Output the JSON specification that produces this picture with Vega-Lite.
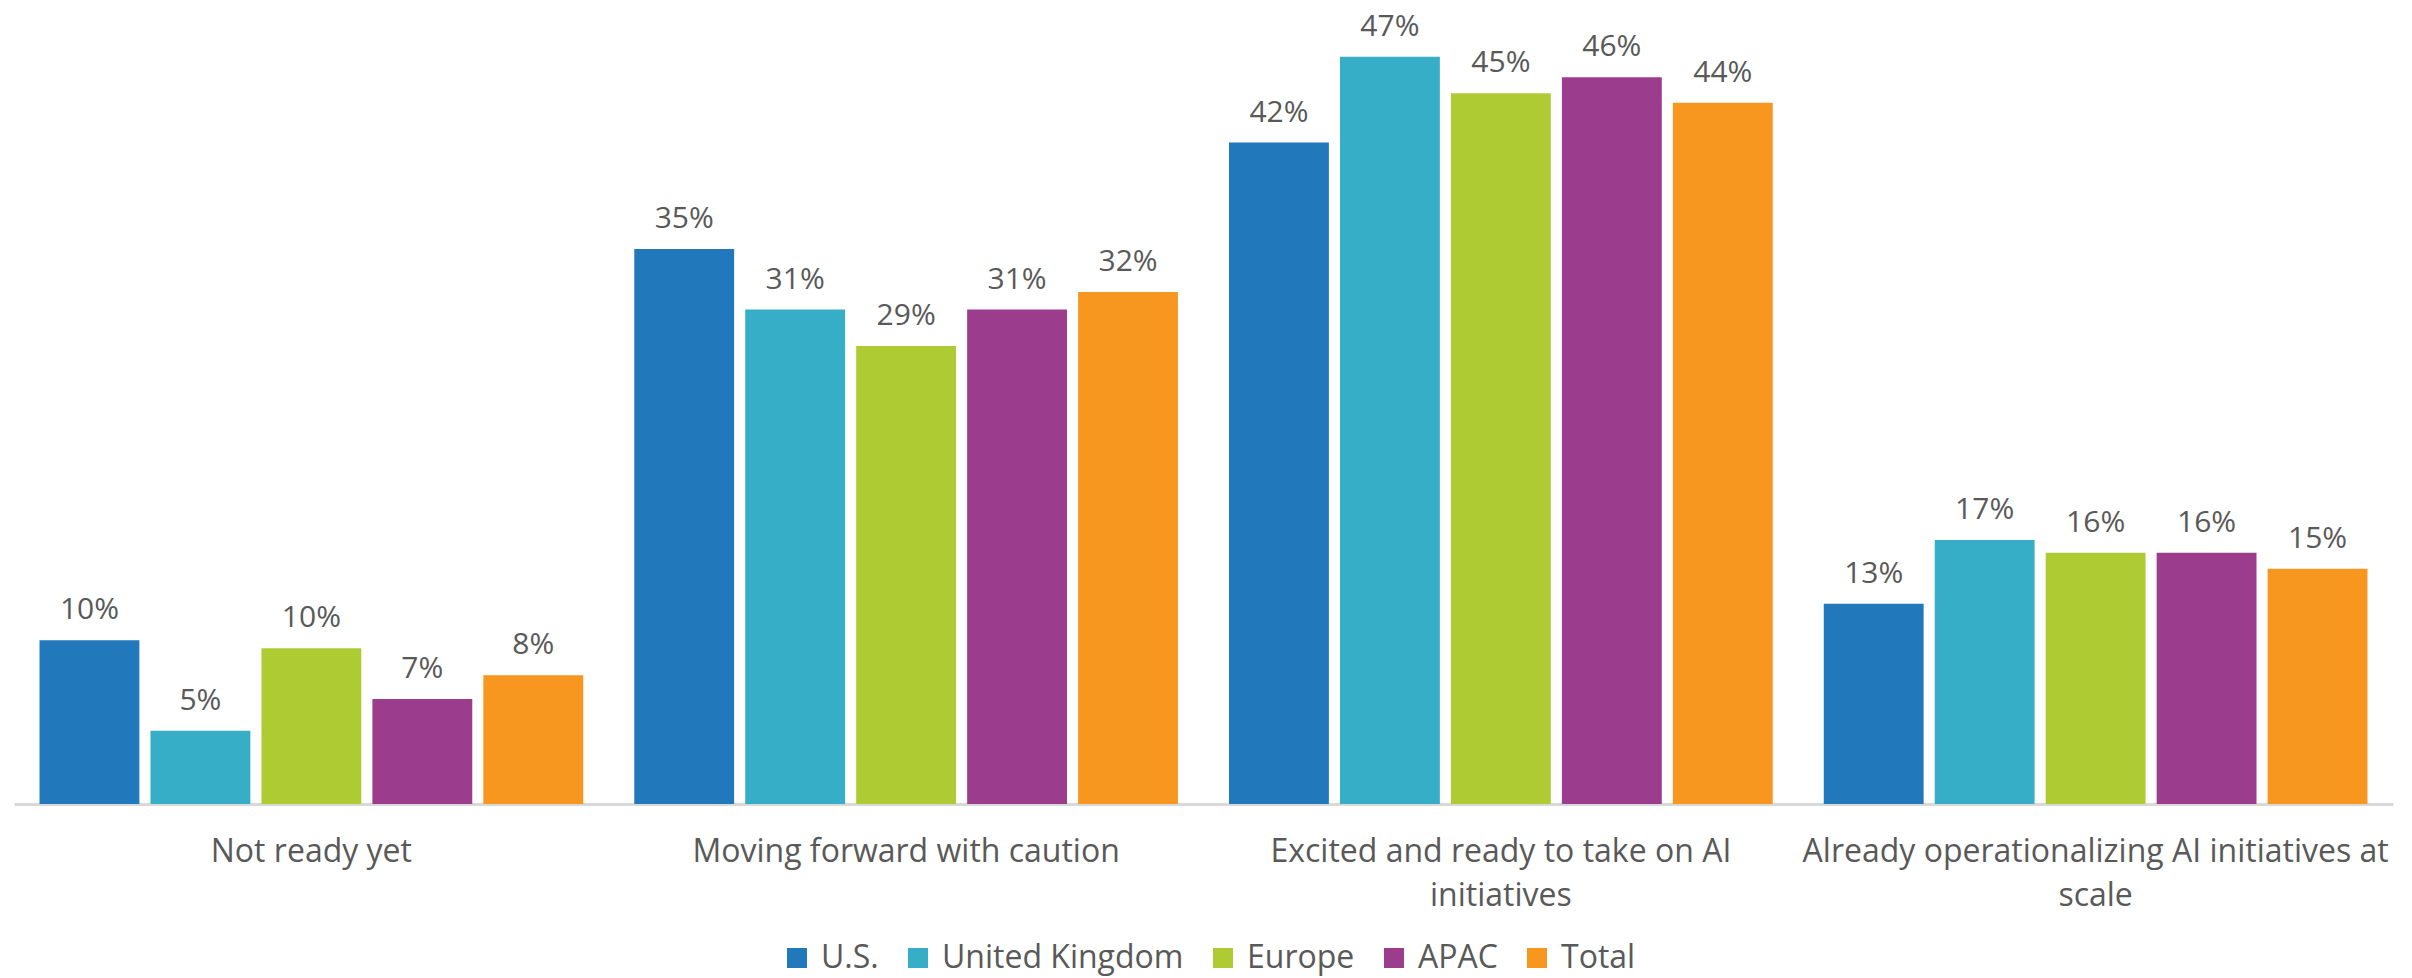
{
  "$schema": "https://vega.github.io/schema/vega-lite/v6.json",
  "width": 2379,
  "height": 795,
  "padding": {"left": 14, "top": 9, "right": 19, "bottom": 174},
  "autosize": {"type": "none"},
  "config": {"view": {"stroke": null}, "font": "Open Sans"},
  "data": {
    "values": [
      {"category": "Not ready yet", "region": "U.S.", "value": 0.103},
      {"category": "Not ready yet", "region": "United Kingdom", "value": 0.046},
      {"category": "Not ready yet", "region": "Europe", "value": 0.098},
      {"category": "Not ready yet", "region": "APAC", "value": 0.066},
      {"category": "Not ready yet", "region": "Total", "value": 0.081},
      {"category": "Moving forward with caution", "region": "U.S.", "value": 0.349},
      {"category": "Moving forward with caution", "region": "United Kingdom", "value": 0.311},
      {"category": "Moving forward with caution", "region": "Europe", "value": 0.288},
      {"category": "Moving forward with caution", "region": "APAC", "value": 0.311},
      {"category": "Moving forward with caution", "region": "Total", "value": 0.322},
      {"category": "Excited and ready to take on AI initiatives", "region": "U.S.", "value": 0.416},
      {"category": "Excited and ready to take on AI initiatives", "region": "United Kingdom", "value": 0.47},
      {"category": "Excited and ready to take on AI initiatives", "region": "Europe", "value": 0.447},
      {"category": "Excited and ready to take on AI initiatives", "region": "APAC", "value": 0.457},
      {"category": "Excited and ready to take on AI initiatives", "region": "Total", "value": 0.441},
      {"category": "Already operationalizing AI initiatives at scale", "region": "U.S.", "value": 0.126},
      {"category": "Already operationalizing AI initiatives at scale", "region": "United Kingdom", "value": 0.166},
      {"category": "Already operationalizing AI initiatives at scale", "region": "Europe", "value": 0.158},
      {"category": "Already operationalizing AI initiatives at scale", "region": "APAC", "value": 0.158},
      {"category": "Already operationalizing AI initiatives at scale", "region": "Total", "value": 0.148}
    ]
  },
  "encoding": {
    "x": {
      "field": "category",
      "type": "nominal",
      "sort": ["Not ready yet", "Moving forward with caution", "Excited and ready to take on AI initiatives", "Already operationalizing AI initiatives at scale"],
      "scale": {"paddingInner": 0, "paddingOuter": 0},
      "axis": {
        "title": null,
        "labelAngle": 0,
        "ticks": false,
        "domain": true,
        "domainColor": "#D9D9D9",
        "domainWidth": 3,
        "labelFont": "Open Sans",
        "labelFontSize": 32,
        "labelColor": "#595959",
        "labelPadding": 32,
        "labelLineHeight": 44,
        "labelLimit": 0,
        "labelExpr": "datum.value == 'Excited and ready to take on AI initiatives' ? ['Excited and ready to take on AI', 'initiatives'] : datum.value == 'Already operationalizing AI initiatives at scale' ? ['Already operationalizing AI initiatives at', 'scale'] : datum.value"
      }
    },
    "xOffset": {
      "field": "region",
      "type": "nominal",
      "sort": ["U.S.", "United Kingdom", "Europe", "APAC", "Total"],
      "scale": {"paddingInner": 0.1, "paddingOuter": 0.23}
    },
    "y": {
      "field": "value",
      "type": "quantitative",
      "scale": {"domain": [0, 0.5], "nice": false},
      "axis": null
    }
  },
  "layer": [
    {
      "mark": {"type": "bar"},
      "encoding": {
        "color": {
          "field": "region",
          "type": "nominal",
          "sort": ["U.S.", "United Kingdom", "Europe", "APAC", "Total"],
          "scale": {
            "domain": ["U.S.", "United Kingdom", "Europe", "APAC", "Total"],
            "range": ["#2178BA", "#36AEC8", "#AECB33", "#9C3C8C", "#F7971F"]
          },
          "legend": {
            "title": null,
            "orient": "none",
            "legendX": 767,
            "legendY": 933,
            "padding": 0,
            "direction": "horizontal",
            "symbolType": "square",
            "symbolSize": 400,
            "symbolStrokeWidth": 0,
            "labelFont": "Open Sans",
            "labelFontSize": 32,
            "labelColor": "#595959",
            "labelOffset": 8,
            "labelLimit": 0,
            "columnPadding": 23
          }
        }
      }
    },
    {
      "mark": {"type": "text", "baseline": "bottom", "dy": -15, "fontSize": 30, "font": "Open Sans", "color": "#595959"},
      "encoding": {
        "text": {"field": "value", "type": "quantitative", "format": ".0%"}
      }
    }
  ]
}
